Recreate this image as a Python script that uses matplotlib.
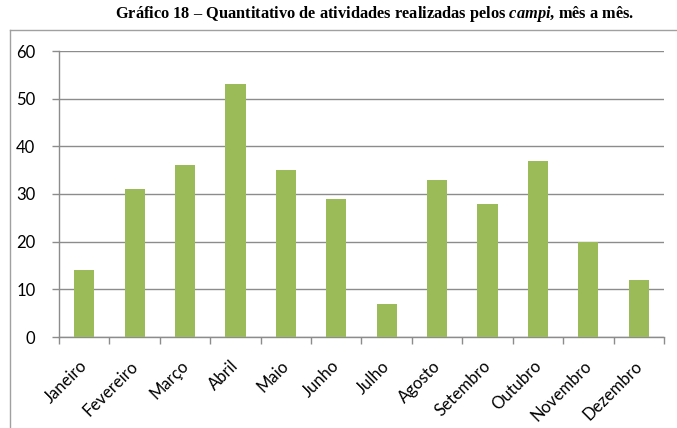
import matplotlib
matplotlib.use("Agg")
import matplotlib.pyplot as plt
from matplotlib.lines import Line2D
import matplotlib.transforms as mtransforms
import numpy as np

months = ["Janeiro", "Fevereiro", "Março", "Abril", "Maio", "Junho", "Julho",
          "Agosto", "Setembro", "Outubro", "Novembro", "Dezembro"]
values = [14, 31, 36, 53, 35, 29, 7, 33, 28, 37, 20, 12]
yticks = [0, 10, 20, 30, 40, 50, 60]

bar_color = "#9BBB59"
grid_color = "#8C8C8C"

plt.rcParams["mathtext.fontset"] = "custom"
plt.rcParams["mathtext.it"] = "Liberation Serif:italic:bold"
plt.rcParams["mathtext.rm"] = "Liberation Serif:bold"
plt.rcParams["mathtext.bf"] = "Liberation Serif:bold"

fig = plt.figure(figsize=(6.77, 4.28), dpi=100)
ax = fig.add_axes([59/677, 1-337/428, (664-59)/677, (337-51)/428])

x = np.arange(len(months))
ax.bar(x, values, width=0.4, color=bar_color, zorder=3)
ax.set_xlim(-0.5, len(months)-0.5)
ax.set_ylim(0, 60)
ax.set_yticks(yticks)
ax.set_yticklabels([str(v) for v in yticks], fontsize=12, family="Lato")
ax.yaxis.grid(True, color=grid_color, linewidth=1)
ax.set_axisbelow(True)

ax.set_xticks(x)
ax.set_xticklabels(months, rotation=45, ha="right", va="top", rotation_mode="anchor",
                   fontsize=12, family="Lato")
ax.tick_params(axis="x", which="major", length=0, pad=15)
offset = mtransforms.ScaledTranslation(-5/100, 0, fig.dpi_scale_trans)
for lab in ax.get_xticklabels():
    lab.set_transform(lab.get_transform() + offset)
ax.set_xticks(np.arange(-0.5, len(months)), minor=True)
ax.tick_params(axis="x", which="minor", length=5, color=grid_color, width=1)
ax.tick_params(axis="y", length=5, color=grid_color, width=1, pad=12)

for s in ["top", "right"]:
    ax.spines[s].set_visible(False)
for s in ["left", "bottom"]:
    ax.spines[s].set_color(grid_color)
    ax.spines[s].set_linewidth(1)

# outer border
fig.add_artist(Line2D([10/677, 1.0], [1-30/428, 1-30/428], transform=fig.transFigure,
                      color="#A0A0A0", linewidth=1))
fig.add_artist(Line2D([10/677, 10/677], [0, 1-30/428], transform=fig.transFigure,
                      color="#A0A0A0", linewidth=1))

fig.text(0.553, 1-14/428,
         r"Gráfico 18 – Quantitativo de atividades realizadas pelos $campi$, mês a mês.",
         ha="center", va="center", fontsize=11.8, fontweight="bold", family="Liberation Serif")

fig.savefig("out.png", dpi=100)
